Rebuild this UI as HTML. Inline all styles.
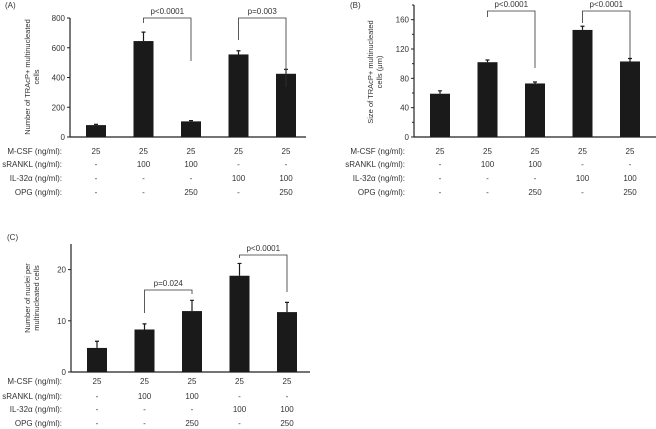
<!DOCTYPE html>
<html><head><meta charset="utf-8"><style>
body{margin:0;background:#fff}
svg{display:block;font-family:"Liberation Sans",Arial,sans-serif}
text{fill:#333}
</style></head><body>
<svg id="fig" width="656" height="429" viewBox="0 0 656 429"></svg>
<script>
const conditions = ["g1","g2","g3","g4","g5"];
const rowLabels = ["M-CSF (ng/ml):","sRANKL (ng/ml):","IL-32α (ng/ml):","OPG (ng/ml):"];
const rowValues = [["25","25","25","25","25"],["-","100","100","-","-"],["-","-","-","100","100"],["-","-","250","-","250"]];
const valuesA = [80,645,105,555,425];
const errorsA = [85,705,110,580,455];
const ticksA = [0,200,400,600,800];
const valuesB = [59,102,73,146,103];
const errorsB = [63,105,75,151,107];
const ticksB = [0,40,80,120,160];
const valuesC = [4.7,8.3,11.9,18.8,11.7];
const errorsC = [6.0,9.4,14.0,21.2,13.6];
const ticksC = [0,10,20];
const NS="http://www.w3.org/2000/svg";
const svg=document.getElementById('fig');
const FS=8;
function mk(tag,attrs,parent,txt){const e=document.createElementNS(NS,tag);for(const k in attrs)e.setAttribute(k,attrs[k]);if(txt!==undefined)e.textContent=txt;(parent||svg).appendChild(e);return e;}
function panel(o){
  const g=mk('g',{});
  
  
  const y=v=>o.y0-(v/o.ymax)*(o.y0-o.ytop);
  const x=i=>o.x0+26+i*47.5;
  const t=mk('text',{x:o.lx,y:o.ly,'font-size':FS},g,'('+o.id+')');
  
  
  const ax=mk('line',{x1:o.x0,y1:o.ytop,x2:o.x0,y2:o.y0,stroke:'#222','stroke-width':1.2},g);
  
  
  const xa=mk('line',{x1:o.x0,y1:o.y0,x2:o.xend,y2:o.y0,stroke:'#222','stroke-width':1.2},g);
  
  
  o.ticks.forEach(tv=>{
    mk('line',{x1:o.x0-3,x2:o.x0,y1:y(tv),y2:y(tv),stroke:'#222'},g);
    const tl=mk('text',{x:o.x0-5,y:y(tv)+3,'font-size':FS,'text-anchor':'end'},g,tv);
    
    
  });
  if(o.minor){for(let v=o.minor;v<=o.ymax;v+=o.minor*2){mk('line',{x1:o.x0-2,x2:o.x0,y1:y(v),y2:y(v),stroke:'#222'},g);}}
  const tt=mk('text',{transform:`translate(${o.tx},${o.ty}) rotate(-90)`,'font-size':7.5,'text-anchor':'middle'},g);
  
  
  mk('tspan',{x:0,dy:0},tt,o.title[0]);mk('tspan',{x:0,dy:9},tt,o.title[1]);
  o.vals.forEach((v,i)=>{
    const cx=x(i);
    const b=mk('rect',{x:cx-10,y:y(v),width:20,height:o.y0-y(v),fill:'#1a1a1a'},g);
    
    
    const e=mk('path',{d:`M${cx},${y(v)}V${y(o.errs[i])}M${cx-2},${y(o.errs[i])}H${cx+2}`,stroke:'#1a1a1a','stroke-width':1.2,fill:'none'},g);
    
    
  });
  o.brackets.forEach(br=>{
    const p=mk('path',{d:`M${x(br.a)},${br.l}V${br.top}H${x(br.b)}V${br.r}`,stroke:'#333','stroke-width':0.8,fill:'none'},g);
    
    
    const pt=mk('text',{x:(x(br.a)+x(br.b))/2,y:br.top-4,'font-size':FS,'text-anchor':'middle'},g,br.t);
    
    
  });
  rowLabels.forEach((rl,r)=>{
    const ry=o.rows[r]+3;
    const l=mk('text',{x:o.rx,y:ry,'font-size':FS,'text-anchor':'end'},g,rl);
    
    
    rowValues[r].forEach((v,i)=>{
      const c=mk('text',{x:x(i),y:ry,'font-size':FS,'text-anchor':'middle'},g,v);
      
      
    });
  });
}
panel({id:'A',x0:70,xend:306,y0:137,ytop:18,ymax:800,ticks:ticksA,vals:valuesA,errs:errorsA,lx:5,ly:8,
  tx:30,ty:77,title:['Number of TRAcP+ multinucleated','cells'],rx:62,rows:[151,164,178,192],
  brackets:[{a:1,b:2,top:18,l:23,r:61,t:'p<0.0001'},{a:3,b:4,top:18,l:40,r:87,t:'p=0.003'}]});
panel({id:'B',x0:414,xend:656,y0:137,ytop:5,ymax:180,ticks:ticksB,minor:20,vals:valuesB,errs:errorsB,lx:350,ly:8,
  tx:373,ty:72,title:['Size of TRAcP+ multinucleated','cells (μm)'],rx:405,rows:[151,164,178,192],
  brackets:[{a:1,b:2,top:11,l:17,r:68,t:'p<0.0001'},{a:3,b:4,top:11,l:23,r:58,t:'p<0.0001'}]});
panel({id:'C',x0:71,xend:310,y0:372,ytop:244,ymax:25,ticks:ticksC,vals:valuesC,errs:errorsC,lx:7,ly:240,
  tx:30,ty:298,title:['Number of nuclei per','multinucleated cells'],rx:62,rows:[381,396,409,423],
  brackets:[{a:1,b:2,top:290,l:313,r:294,t:'p=0.024'},{a:3,b:4,top:255,l:258,r:292,t:'p<0.0001'}]});
</script>
</body></html>
